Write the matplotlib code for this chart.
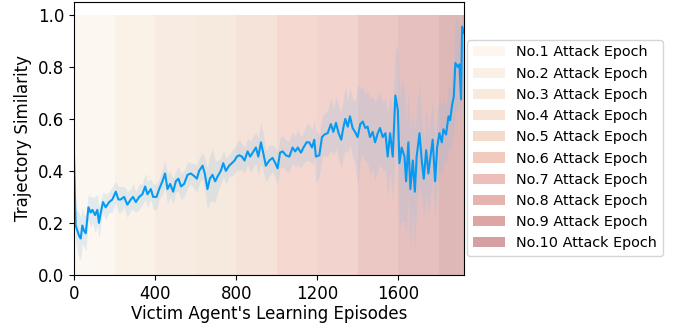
import numpy as np
import matplotlib
matplotlib.use("Agg")
import matplotlib.pyplot as plt
from matplotlib.patches import Patch

episodes = [0, 8, 25, 33, 41, 49, 58, 71, 82, 91, 104, 115, 123, 132, 143, 156, 173, 189,
            206, 219, 230, 247, 263, 280, 291, 305, 321, 337, 351, 362, 379, 390, 407, 420,
            436, 449, 461, 474, 489, 502, 515, 528, 543, 560, 576, 593, 606, 617, 634, 645,
            658, 670, 683, 696, 709, 724, 736, 749, 765, 779, 792, 803, 815, 828, 841, 856,
            869, 881, 897, 909, 922, 933, 946, 963, 979, 993, 1004, 1016, 1029, 1045, 1062,
            1078, 1091, 1104, 1119, 1132, 1147, 1160, 1174, 1185, 1193, 1210, 1223, 1235,
            1251, 1267, 1279, 1292, 1305, 1318, 1328, 1338, 1350, 1361, 1374, 1386, 1399,
            1412, 1424, 1437, 1448, 1460, 1473, 1485, 1498, 1509, 1523, 1536, 1547, 1559,
            1572, 1585, 1597, 1605, 1616, 1630, 1638, 1649, 1659, 1671, 1681, 1690, 1704,
            1715, 1725, 1737, 1748, 1758, 1769, 1781, 1791, 1802, 1814, 1822, 1835, 1847,
            1855, 1865, 1873, 1881, 1893, 1901, 1909, 1914, 1922]

similarity = [0.45, 0.19, 0.15, 0.14, 0.19, 0.17, 0.16, 0.26, 0.24, 0.25, 0.23, 0.25, 0.20,
              0.24, 0.28, 0.26, 0.28, 0.29, 0.32, 0.29, 0.29, 0.30, 0.27, 0.29, 0.30, 0.28,
              0.30, 0.31, 0.34, 0.31, 0.33, 0.30, 0.30, 0.33, 0.36, 0.39, 0.33, 0.35, 0.32,
              0.36, 0.37, 0.34, 0.35, 0.385, 0.39, 0.38, 0.37, 0.40, 0.42, 0.39, 0.33, 0.37,
              0.385, 0.36, 0.38, 0.40, 0.43, 0.40, 0.42, 0.43, 0.44, 0.455, 0.46, 0.455, 0.44,
              0.475, 0.455, 0.47, 0.49, 0.455, 0.51, 0.47, 0.42, 0.44, 0.45, 0.43, 0.41, 0.47,
              0.475, 0.46, 0.455, 0.49, 0.475, 0.49, 0.47, 0.49, 0.51, 0.51, 0.49, 0.52, 0.455,
              0.46, 0.53, 0.54, 0.545, 0.58, 0.55, 0.585, 0.545, 0.52, 0.565, 0.60, 0.57, 0.61,
              0.565, 0.55, 0.53, 0.58, 0.59, 0.565, 0.57, 0.53, 0.55, 0.51, 0.545, 0.565, 0.53,
              0.545, 0.455, 0.545, 0.455, 0.69, 0.635, 0.43, 0.49, 0.455, 0.36, 0.51, 0.33,
              0.44, 0.32, 0.455, 0.545, 0.44, 0.37, 0.48, 0.39, 0.455, 0.52, 0.36, 0.49, 0.545,
              0.51, 0.56, 0.54, 0.61, 0.595, 0.655, 0.685, 0.815, 0.80, 0.81, 0.675, 0.955, 0.93]

# half width of the shaded band at the same episodes
spread = [0.08, 0.06, 0.09, 0.08, 0.07, 0.06, 0.07, 0.05, 0.06, 0.05, 0.07, 0.06, 0.06,
          0.05, 0.04, 0.05, 0.04, 0.05, 0.04, 0.05, 0.05, 0.04, 0.05, 0.04, 0.05, 0.04,
          0.05, 0.04, 0.05, 0.05, 0.04, 0.05, 0.05, 0.04, 0.05, 0.05, 0.06, 0.05, 0.05,
          0.04, 0.05, 0.05, 0.05, 0.05, 0.04, 0.05, 0.05, 0.05, 0.05, 0.06, 0.08, 0.09,
          0.10, 0.08, 0.06, 0.05, 0.05, 0.05, 0.04, 0.05, 0.05, 0.05, 0.06, 0.05, 0.05,
          0.05, 0.06, 0.06, 0.06, 0.07, 0.08, 0.07, 0.06, 0.06, 0.05, 0.06, 0.06, 0.06,
          0.06, 0.06, 0.06, 0.06, 0.06, 0.07, 0.06, 0.06, 0.07, 0.07, 0.07, 0.08, 0.10,
          0.08, 0.08, 0.08, 0.09, 0.10, 0.09, 0.10, 0.10, 0.11, 0.11, 0.12, 0.10, 0.11,
          0.11, 0.12, 0.20, 0.14, 0.13, 0.13, 0.14, 0.15, 0.14, 0.15, 0.14, 0.14, 0.13,
          0.14, 0.16, 0.15, 0.18, 0.20, 0.22, 0.25, 0.28, 0.25, 0.22, 0.20, 0.22, 0.20,
          0.22, 0.18, 0.20, 0.16, 0.14, 0.17, 0.15, 0.16, 0.15, 0.14, 0.15, 0.14, 0.13,
          0.12, 0.11, 0.12, 0.12, 0.13, 0.14, 0.18, 0.17, 0.15, 0.15, 0.10, 0.08]

# attack epochs: every 200 episodes
epoch_starts = [0, 200, 400, 600, 800, 1000, 1200, 1400, 1600, 1800]
epoch_ends = [200, 400, 600, 800, 1000, 1200, 1400, 1600, 1800, 1922]
epoch_labels = ["No.%d Attack Epoch" % (i + 1) for i in range(10)]
# shade behind the curve, and the (stronger) swatch shown in the legend
band_colors = ["#fcf7f1", "#faf1e7", "#f8ece2", "#f6e9de", "#f5e2d8",
               "#f5d9d1", "#f2d3cd", "#ecc8c5", "#e5c0bf", "#deb7b7"]
legend_colors = ["#fcf6ee", "#fbf0e5", "#f9eadb", "#f8e3d7", "#f5d9ca",
                 "#f2cbbf", "#eebfba", "#e7b3ae", "#dca6a5", "#d4a0a2"]

x = np.array(episodes)
y = np.array(similarity)
s = np.array(spread)

fig, ax = plt.subplots(figsize=(6.73, 3.23), dpi=100)
fig.subplots_adjust(left=0.110, right=0.689, bottom=0.149, top=0.994)

handles = []
for a, b, c, lc, lab in zip(epoch_starts, epoch_ends, band_colors, legend_colors, epoch_labels):
    ax.fill_between([a, b], 0, 1, color=c, linewidth=0)
    handles.append(Patch(facecolor=lc, edgecolor="none", label=lab))

ax.fill_between(x, np.clip(y - s, 0, 1), np.clip(y + s, 0, 1), color="#8cc0e6", alpha=0.22, linewidth=0)
ax.plot(x, y, color="#069AF3", linewidth=1.5)

ax.set_xlim(0, 1922)
ax.set_ylim(0, 1.05)
ax.set_xticks([0, 400, 800, 1200, 1600])
ax.set_yticks([0.0, 0.2, 0.4, 0.6, 0.8, 1.0])
ax.tick_params(labelsize=12)
ax.set_xlabel("Victim Agent's Learning Episodes", fontsize=12, labelpad=2)
ax.set_ylabel("Trajectory Similarity", fontsize=12)

ax.legend(handles=handles, loc="center left", bbox_to_anchor=(1.0, 0.465),
          fontsize=10.4, borderaxespad=0.25, handlelength=2.2)

fig.savefig("out.png", dpi=100)
